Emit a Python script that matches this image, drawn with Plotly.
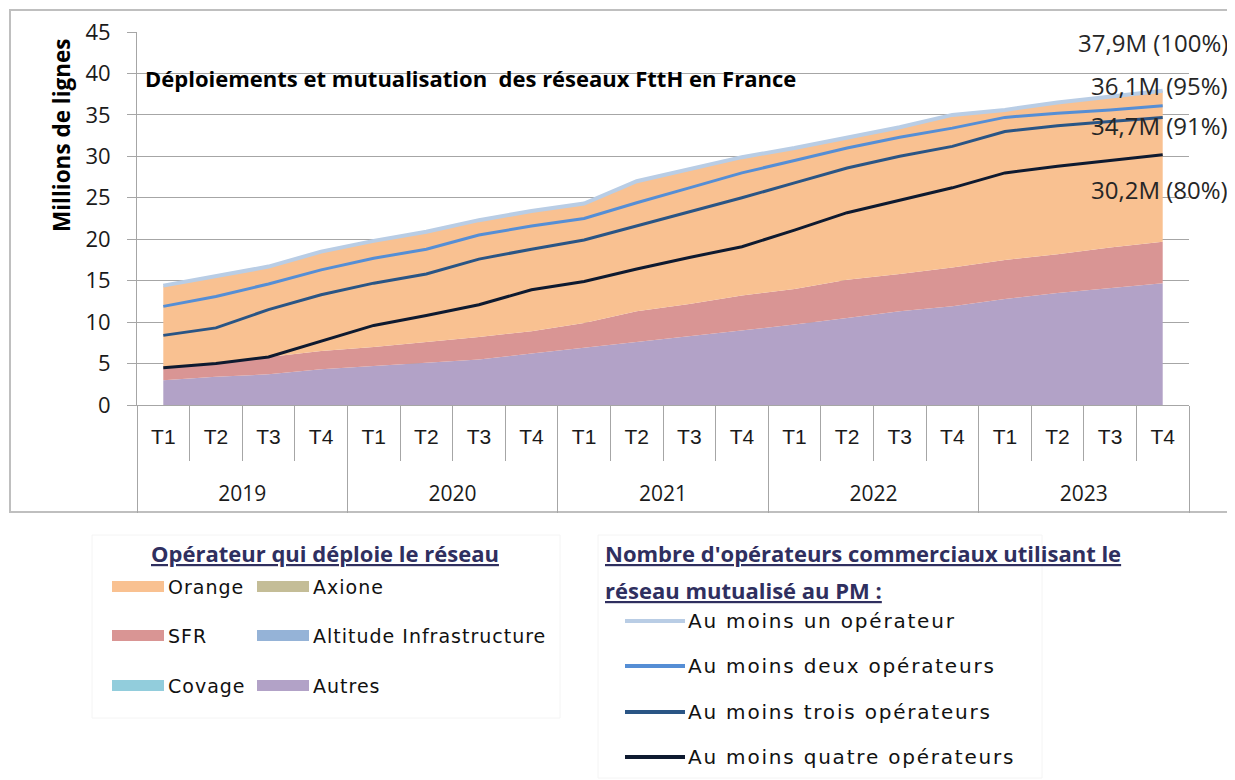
import plotly.graph_objects as go

# categories
years = ["2019", "2020", "2021", "2022", "2023"]
quarters = ["T1", "T2", "T3", "T4"]

# stacked areas : operateur qui deploie le reseau (millions de lignes)
autres = [3.0, 3.4, 3.7, 4.3, 4.7, 5.1, 5.5, 6.2, 6.9, 7.6,
          8.3, 9.0, 9.7, 10.5, 11.3, 11.9, 12.8, 13.5, 14.1, 14.7]
sfr = [1.5, 1.6, 2.1, 2.2, 2.3, 2.5, 2.7, 2.7, 3.0, 3.7,
       3.9, 4.2, 4.3, 4.6, 4.5, 4.7, 4.7, 4.7, 4.9, 5.0]
orange = [9.9, 10.6, 10.9, 12.0, 12.8, 13.3, 14.1, 14.5, 14.4, 15.7,
          16.2, 16.7, 17.0, 17.1, 17.7, 18.4, 18.1, 18.3, 18.2, 18.2]

# lines : nombre d'operateurs commerciaux au PM
au_moins_un = [14.4, 15.6, 16.7, 18.5, 19.8, 20.9, 22.3, 23.4, 24.3, 27.0,
               28.4, 29.9, 31.0, 32.2, 33.5, 35.0, 35.6, 36.5, 37.2, 37.9]
au_moins_deux = [11.9, 13.1, 14.6, 16.3, 17.7, 18.8, 20.5, 21.6, 22.5, 24.4,
                 26.2, 28.0, 29.5, 31.0, 32.3, 33.4, 34.7, 35.2, 35.6, 36.1]
au_moins_trois = [8.4, 9.3, 11.5, 13.3, 14.7, 15.8, 17.6, 18.8, 19.9, 21.6,
                  23.3, 25.0, 26.8, 28.6, 30.0, 31.2, 33.0, 33.7, 34.2, 34.7]
au_moins_quatre = [4.5, 5.0, 5.8, 7.7, 9.6, 10.8, 12.1, 13.9, 14.9, 16.4,
                   17.8, 19.1, 21.1, 23.2, 24.7, 26.2, 28.0, 28.8, 29.5, 30.2]

end_labels = ["37,9M (100%)", "36,1M (95%)", "34,7M (91%)", "30,2M (80%)"]

n = len(years) * len(quarters)
xi = list(range(n))
quarter_text = [q for y in years for q in quarters]
year_pos = [i * 4 + 1.5 for i in range(len(years))]
bounds = [i - 0.5 for i in range(n + 1)]
year_bounds = [i * 4 - 0.5 for i in range(len(years) + 1)]

# page is 1235x780, the html body adds an 8px margin
OFF = 8
W, H = 1235 - OFF, 780 - OFF
L, R, T, B = 137, 1189, 32, 405   # plot area in page pixels

GREY = "#a6a6a6"
TXT = "Open Sans, DejaVu Sans, sans-serif"
NAVY = "#2f2f5f"


def px(xp, yp):
    # page pixel -> paper coordinates
    return (xp - L) / (R - L), (B - yp) / (B - T)


fig = go.Figure()

areas = [("Autres", autres, "#b2a2c7"),
         ("SFR", sfr, "#d99594"),
         ("Orange", orange, "#f9c191")]
for name, vals, col in areas:
    fig.add_trace(go.Scatter(x=xi, y=vals, name=name, stackgroup="ops",
                             mode="lines", line=dict(width=0, color=col),
                             fillcolor=col, showlegend=False))

lines = [("Au moins un opérateur", au_moins_un, "#b9cde5", 4),
         ("Au moins deux opérateurs", au_moins_deux, "#558ed5", 3),
         ("Au moins trois opérateurs", au_moins_trois, "#2a5585", 3),
         ("Au moins quatre opérateurs", au_moins_quatre, "#0e1a30", 3)]
for name, vals, col, w in lines:
    fig.add_trace(go.Scatter(x=xi, y=vals, name=name, mode="lines",
                             line=dict(color=col, width=w), showlegend=False))

# empty traces so the helper x axes (separators, years) get drawn
for ax in ["x2", "x3", "x4"]:
    fig.add_trace(go.Scatter(x=[], y=[], xaxis=ax, yaxis="y", showlegend=False, hoverinfo="skip"))

shapes = []
annotations = []

# outer chart frame
x0, y0 = px(10, 10)
x1, y1 = px(1231, 512)
shapes.append(dict(type="rect", xref="paper", yref="paper", x0=x0, y0=y1, x1=x1, y1=y0,
                   line=dict(color="#bfbfbf", width=2), layer="below"))

# title inside plot
tx, ty = px(143, 78)
annotations.append(dict(xref="paper", yref="paper", x=tx, y=ty, xanchor="left", yanchor="middle",
                        showarrow=False, text="<b>Déploiements et mutualisation  des réseaux FttH en France</b>",
                        font=dict(family=TXT, size=22, color="#000000")))

# y axis title
ax_, ay_ = px(62, 135)
annotations.append(dict(xref="paper", yref="paper", x=ax_, y=ay_, xanchor="center", yanchor="middle",
                        textangle=-90, showarrow=False, text="<b>Millions de lignes</b>",
                        font=dict(family=TXT, size=22.5, color="#000000")))

# end-of-line value labels
for lab, ypix in zip(end_labels, [42, 85, 126, 190]):
    lx, ly = px(1230, ypix)
    annotations.append(dict(xref="paper", yref="paper", x=lx, y=ly, xanchor="right", yanchor="middle",
                            showarrow=False, text=lab,
                            font=dict(family=TXT, size=24, color="#262626")))

# legend 1 : operateur qui deploie
bx0, by0 = px(92, 535)
bx1, by1 = px(560, 718)
shapes.append(dict(type="rect", xref="paper", yref="paper", x0=bx0, y0=by1, x1=bx1, y1=by0,
                   line=dict(color="#f4f4f4", width=1), fillcolor="#ffffff"))
hx, hy = px(325, 553)
annotations.append(dict(xref="paper", yref="paper", x=hx, y=hy, xanchor="center", yanchor="middle",
                        showarrow=False, text="<u><b>Opérateur qui déploie le réseau</b></u>",
                        font=dict(family=TXT, size=22, color=NAVY)))
leg1 = [("Orange", "#f9c191", 112, 587), ("Axione", "#c4bd97", 257, 587),
        ("SFR", "#d99594", 112, 636), ("Altitude Infrastructure", "#95b3d7", 257, 636),
        ("Covage", "#92cddc", 112, 686), ("Autres", "#b2a2c7", 257, 686)]
for name, col, sx, sy in leg1:
    a0, b0 = px(sx, sy - 6)
    a1, b1 = px(sx + 52, sy + 5)
    shapes.append(dict(type="rect", xref="paper", yref="paper", x0=a0, y0=b1, x1=a1, y1=b0,
                       line=dict(width=0), fillcolor=col))
    ex, ey = px(sx + 54, sy)
    annotations.append(dict(xref="paper", yref="paper", x=ex, y=ey, xanchor="left", yanchor="middle",
                            showarrow=False,
                            text='<span style="letter-spacing:1px">' + name + "</span>",
                            font=dict(family="DejaVu Sans, sans-serif", size=19, color="#111111")))

# legend 2 : nombre d'operateurs commerciaux
bx0, by0 = px(598, 535)
bx1, by1 = px(1042, 778)
shapes.append(dict(type="rect", xref="paper", yref="paper", x0=bx0, y0=by1, x1=bx1, y1=by0,
                   line=dict(color="#f4f4f4", width=1), fillcolor="#ffffff"))
for txt, ypix in [("Nombre d'opérateurs commerciaux utilisant le", 553), ("réseau mutualisé au PM :", 590)]:
    hx, hy = px(603, ypix)
    annotations.append(dict(xref="paper", yref="paper", x=hx, y=hy, xanchor="left", yanchor="middle",
                            showarrow=False, text="<u><b>" + txt + "</b></u>",
                            font=dict(family=TXT, size=22, color=NAVY)))
for (name, vals, col, w), ypix in zip(lines, [621, 666, 712, 757]):
    a0, b0 = px(625, ypix)
    a1, _ = px(685, ypix)
    shapes.append(dict(type="line", xref="paper", yref="paper", x0=a0, y0=b0, x1=a1, y1=b0,
                       line=dict(color=col, width=4)))
    ex, ey = px(686, ypix)
    annotations.append(dict(xref="paper", yref="paper", x=ex, y=ey, xanchor="left", yanchor="middle",
                            showarrow=False,
                            text='<span style="letter-spacing:1.8px">' + name + "</span>",
                            font=dict(family="DejaVu Sans, sans-serif", size=20, color="#111111")))

xr = [-0.5, n - 0.5]
fig.update_layout(
    width=W, height=H,
    margin=dict(l=L - OFF, r=1235 - R, t=T - OFF, b=780 - B, autoexpand=False),
    paper_bgcolor="#ffffff", plot_bgcolor="#ffffff",
    showlegend=False,
    shapes=shapes, annotations=annotations,
    # quarter labels
    xaxis=dict(range=xr, tickmode="array", tickvals=xi, ticktext=quarter_text,
               showgrid=False, zeroline=False, showline=True, linecolor=GREY,
               ticks="outside", ticklen=13, tickcolor="rgba(0,0,0,0)",
               tickfont=dict(family="Liberation Sans Narrow, Liberation Sans, sans-serif", size=21, color="#1a1a1a")),
    # separators between quarters
    xaxis2=dict(range=xr, overlaying="x", anchor="y", side="bottom", tickmode="array",
                tickvals=bounds, showticklabels=False, showgrid=False, zeroline=False,
                showline=False, ticks="outside", ticklen=55, tickcolor=GREY, tickwidth=1),
    # separators between years
    xaxis3=dict(range=xr, overlaying="x", anchor="y", side="bottom", tickmode="array",
                tickvals=year_bounds, showticklabels=False, showgrid=False, zeroline=False,
                showline=False, ticks="outside", ticklen=107, tickcolor=GREY, tickwidth=1),
    # year labels
    xaxis4=dict(range=xr, overlaying="x", anchor="y", side="bottom", tickmode="array",
                tickvals=year_pos, ticktext=years, showgrid=False, zeroline=False,
                showline=False, ticks="outside", ticklen=70, tickcolor="rgba(0,0,0,0)",
                tickfont=dict(family=TXT, size=21, color="#1a1a1a")),
    yaxis=dict(range=[0, 45], dtick=5, showgrid=True, gridcolor=GREY, gridwidth=1,
               showline=True, linecolor=GREY, ticks="outside", ticklen=9, tickcolor=GREY,
               zeroline=False, ticklabelstandoff=12,
               tickfont=dict(family=TXT, size=22, color="#1a1a1a")),
)

fig.write_html("out.html")
